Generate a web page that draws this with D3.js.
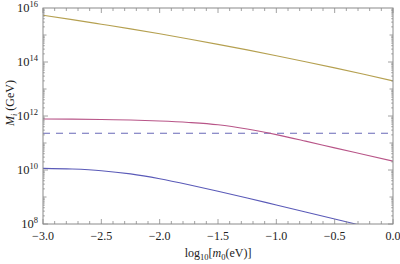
<!DOCTYPE html>
<html>
<head>
<meta charset="utf-8">
<script src="https://cdn.jsdelivr.net/npm/d3@7"></script>
<style>
  body { margin: 0; background: #fff; }
</style>
</head>
<body>
<svg width="400" height="264"></svg>
<script>
// values, log10 of M_i in GeV
const xs = [-3.0, -2.75, -2.5, -2.25, -2.0, -1.75, -1.5, -1.25, -1.0, -0.75, -0.5, -0.25, 0.0];
const gold = [15.73, 15.57, 15.40, 15.227, 15.044, 14.853, 14.654, 14.448, 14.234, 14.012, 13.783, 13.546, 13.30];
const pink = [11.89, 11.885, 11.87, 11.85, 11.815, 11.76, 11.675, 11.52, 11.31, 11.07, 10.82, 10.575, 10.33];
const blue = [10.06, 10.035, 9.975, 9.855, 9.675, 9.455, 9.215, 8.965, 8.705, 8.445, 8.185, 7.925, 7.665];
const dashedLevel = 11.36;

const xMajor = [-3.0, -2.5, -2.0, -1.5, -1.0, -0.5, 0.0];
const yMajor = [8, 10, 12, 14, 16];

const FONT = "Liberation Serif";
const svg = d3.select("svg");
const mLeft = 43, mRight = 393, mTop = 8, mBottom = 224;

const x = d3.scaleLinear().domain([-3, 0]).range([mLeft, mRight]);
const y = d3.scaleLinear().domain([8, 16]).range([mBottom, mTop]);

svg.append("clipPath").attr("id", "clip")
  .append("rect")
  .attr("x", mLeft).attr("y", mTop)
  .attr("width", mRight - mLeft).attr("height", mBottom - mTop);

const plot = svg.append("g").attr("clip-path", "url(#clip)");

const line = d3.line()
  .x(function(d) { return x(d[0]); })
  .y(function(d) { return y(d[1]); })
  .curve(d3.curveMonotoneX);

// dashed reference level
plot.append("line")
  .attr("x1", x(-3)).attr("x2", x(0))
  .attr("y1", y(dashedLevel)).attr("y2", y(dashedLevel))
  .attr("stroke", "#6a6ab8")
  .attr("stroke-width", 1.1)
  .attr("stroke-dasharray", "7,6");

const series = [
  { vals: gold, color: "#b5a050" },
  { vals: pink, color: "#b85588" },
  { vals: blue, color: "#5a5ab8" }
];

series.forEach(function(s) {
  plot.append("path")
    .datum(xs.map(function(v, i) { return [v, s.vals[i]]; }))
    .attr("fill", "none")
    .attr("stroke", s.color)
    .attr("stroke-width", 1.1)
    .attr("d", line);
});

// frame
const frameColor = "#8a8a8a";
svg.append("rect")
  .attr("x", mLeft).attr("y", mTop)
  .attr("width", mRight - mLeft).attr("height", mBottom - mTop)
  .attr("fill", "none")
  .attr("stroke", frameColor)
  .attr("stroke-width", 1);

const ticks = svg.append("g").attr("stroke", frameColor).attr("stroke-width", 0.8);

// x ticks, inward on bottom and top
d3.range(0, 31).forEach(function(i) {
  const v = -3 + i * 0.1;
  const len = i % 5 === 0 ? 5 : 3;
  ticks.append("line")
    .attr("x1", x(v)).attr("x2", x(v))
    .attr("y1", mBottom).attr("y2", mBottom - len);
  ticks.append("line")
    .attr("x1", x(v)).attr("x2", x(v))
    .attr("y1", mTop).attr("y2", mTop + len);
});

// y ticks (log), inward on left and right
d3.range(8, 16).forEach(function(e) {
  d3.range(1, 10).forEach(function(k) {
    const v = e + Math.log10(k);
    let len;
    if (k === 1) len = (e % 2 === 0) ? 5 : 3.5;
    else len = 1.8;
    ticks.append("line")
      .attr("x1", mLeft).attr("x2", mLeft + len)
      .attr("y1", y(v)).attr("y2", y(v));
    ticks.append("line")
      .attr("x1", mRight).attr("x2", mRight - len)
      .attr("y1", y(v)).attr("y2", y(v));
  });
});

// x tick labels
svg.append("g").selectAll("text")
  .data(xMajor)
  .enter()
  .append("text")
  .attr("x", function(d) { return x(d); })
  .attr("y", 240)
  .attr("text-anchor", "middle")
  .attr("font-family", FONT)
  .attr("font-size", 12)
  .attr("fill", "#222")
  .text(function(d) { return d3.format(".1f")(d).replace("-", "\u2212"); });

// y tick labels: 10^n
const yl = svg.append("g").selectAll("text")
  .data(yMajor)
  .enter()
  .append("text")
  .attr("x", 38)
  .attr("y", function(d) { return y(d) + 4; })
  .attr("text-anchor", "end")
  .attr("font-family", FONT)
  .attr("font-size", 12.5)
  .attr("fill", "#222");
yl.append("tspan").text("10");
yl.append("tspan")
  .attr("dy", -5)
  .attr("font-size", 8.5)
  .text(function(d) { return d; });

// axis titles
const xt = svg.append("text")
  .attr("x", (mLeft + mRight) / 2)
  .attr("y", 257)
  .attr("text-anchor", "middle")
  .attr("font-family", FONT)
  .attr("font-size", 12)
  .attr("fill", "#222");
xt.append("tspan").text("log");
xt.append("tspan").attr("dy", 3).attr("font-size", 8.5).text("10");
xt.append("tspan").attr("dy", -3).text("[");
xt.append("tspan").attr("font-style", "italic").text("m");
xt.append("tspan").attr("dy", 3).attr("font-size", 8.5).text("0");
xt.append("tspan").attr("dy", -3).text("(eV)]");

const yt = svg.append("text")
  .attr("transform", "translate(14,103) rotate(-90)")
  .attr("text-anchor", "middle")
  .attr("font-family", FONT)
  .attr("font-size", 12)
  .attr("fill", "#222");
yt.append("tspan").attr("font-style", "italic").text("M");
yt.append("tspan").attr("dy", 3).attr("font-size", 8.5).attr("font-style", "italic").text("i");
yt.append("tspan").attr("dy", -3).text(" (GeV)");
</script>
</body>
</html>
